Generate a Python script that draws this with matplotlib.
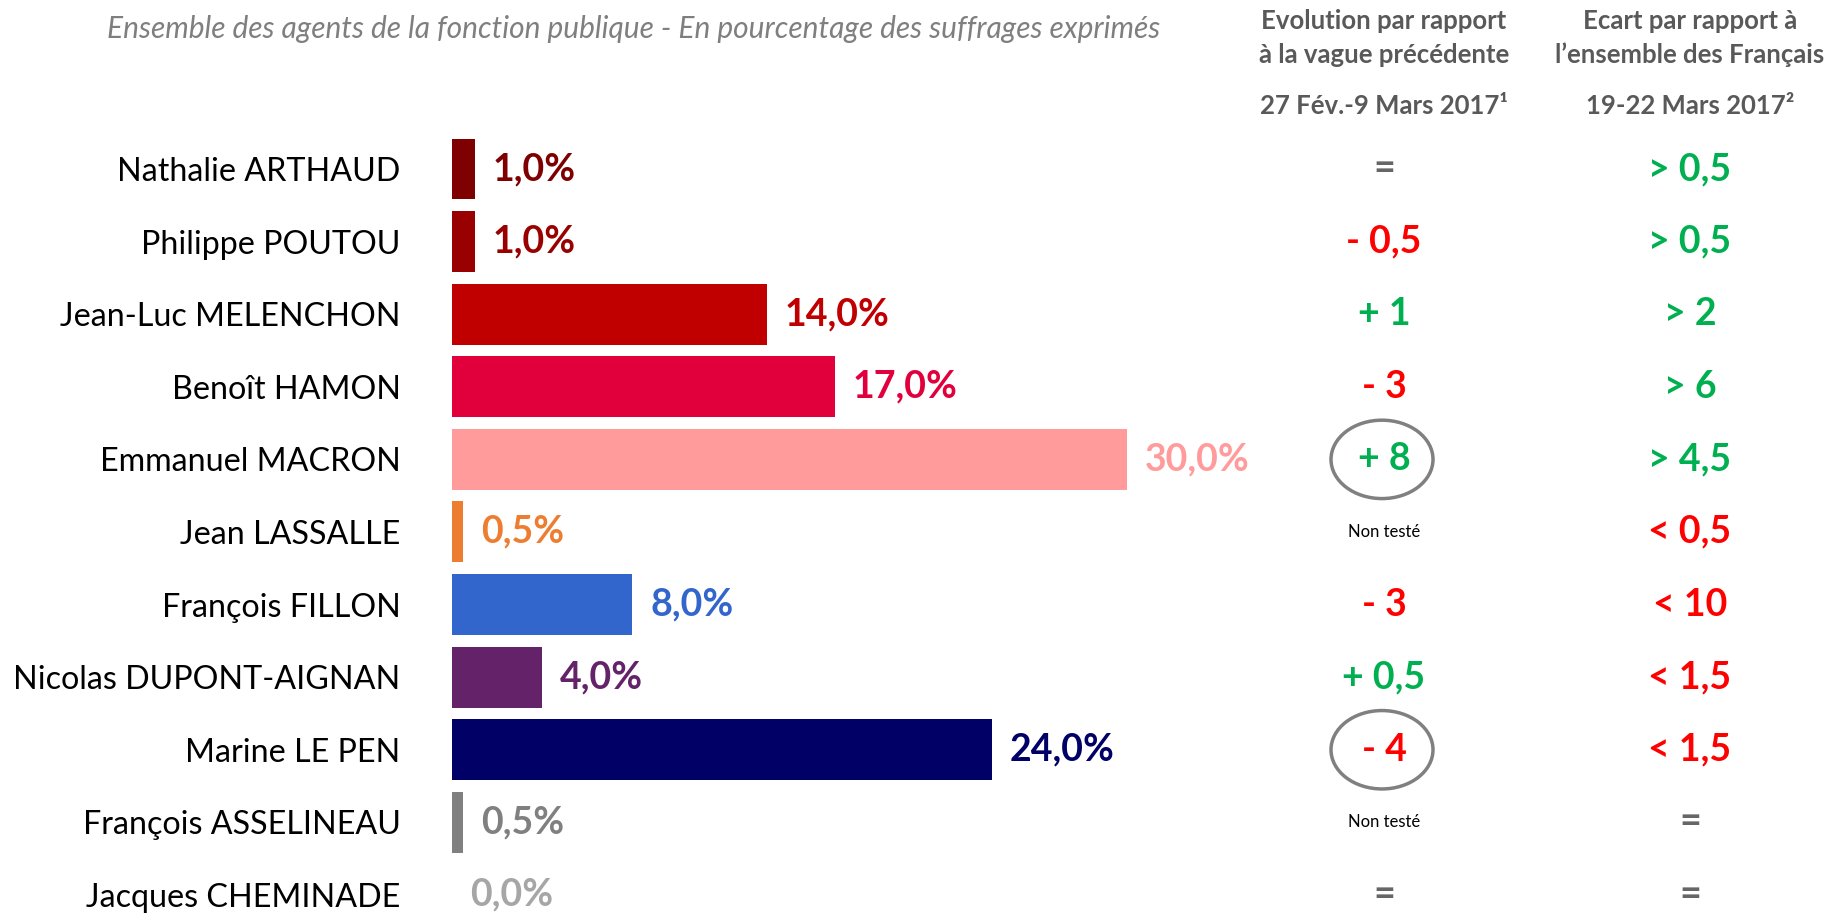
"""Intentions de vote des agents de la fonction publique - barres horizontales."""

import matplotlib

matplotlib.use("Agg")
import matplotlib.pyplot as plt
from matplotlib.patches import Ellipse

plt.rcParams["font.family"] = ["Lato", "DejaVu Sans"]

candidats = [
    "Nathalie ARTHAUD", "Philippe POUTOU", "Jean-Luc MELENCHON", "Benoît HAMON",
    "Emmanuel MACRON", "Jean LASSALLE", "François FILLON", "Nicolas DUPONT-AIGNAN",
    "Marine LE PEN", "François ASSELINEAU", "Jacques CHEMINADE",
]
scores = [1.0, 1.0, 14.0, 17.0, 30.0, 0.5, 8.0, 4.0, 24.0, 0.5, 0.0]
couleurs = [
    "#7F0000", "#990000", "#C00000", "#E2003C", "#FF9B9B", "#ED7D31",
    "#3366CC", "#642369", "#000066", "#808080", "#A6A6A6",
]
evolution = ["=", "- 0,5", "+ 1", "- 3", "+ 8", "Non testé", "- 3", "+ 0,5", "- 4", "Non testé", "="]
ecart = ["> 0,5", "> 0,5", "> 2", "> 6", "> 4,5", "< 0,5", "< 10", "< 1,5", "< 1,5", "=", "="]
entoures = [4, 8]

VERT, ROUGE, GRIS = "#00B050", "#FF0000", "#666666"


def couleur_delta(s):
    if s == "Non testé":
        return "black"
    if s.startswith("+") or s.startswith(">"):
        return VERT
    if s.startswith("-") or s.startswith("<"):
        return ROUGE
    return GRIS


W, H = 1843, 916
fig = plt.figure(figsize=(W / 100, H / 100), dpi=100)

y_top = 1 - 132.7 / H
ylim = (10.29, -0.5)

ax = fig.add_axes([452 / W, 0, 900 / W, y_top])
y = list(range(len(candidats)))
ax.barh(y, scores, height=0.84, color=couleurs)
ax.set_xlim(0, 40)
ax.set_ylim(*ylim)
ax.set_yticks(y)
ax.set_yticklabels(candidats, fontsize=23.2, color="black")
ax.tick_params(axis="y", length=0, pad=37)
ax.set_xticks([])
for s in ax.spines.values():
    s.set_visible(False)

for yi, v, c in zip(y, scores, couleurs):
    ax.annotate(f"{v:.1f}%".replace(".", ","), (v, yi), xytext=(13, 0),
                textcoords="offset points", va="center", ha="left",
                fontsize=27, fontweight="bold", color=c)

# colonnes de droite
tab = fig.add_axes([0, 0, 1, y_top])
tab.set_xlim(0, W)
tab.set_ylim(*ylim)
tab.axis("off")
tab.patch.set_visible(False)

x1, x2 = 1384, 1690
for yi, e1, e2 in zip(y, evolution, ecart):
    if e1 == "Non testé":
        tab.text(x1, yi, e1, ha="center", va="center", fontsize=12, color="black")
    else:
        tab.text(x1, yi, e1, ha="center", va="center", fontsize=27,
                 fontweight="bold", color=couleur_delta(e1))
    tab.text(x2, yi, e2, ha="center", va="center", fontsize=27,
             fontweight="bold", color=couleur_delta(e2))
for i in entoures:
    tab.add_patch(Ellipse((x1 - 2, i), 102, 1.08, fill=False, ec="#808080", lw=2.5))

# en-têtes
fig.text(634 / W, 1 - 29 / H, "Ensemble des agents de la fonction publique - En pourcentage des suffrages exprimés",
         ha="center", va="center", fontsize=21.5, style="italic", color="#7F7F7F")
entetes = [
    (x1, ["Evolution par rapport", "à la vague précédente", "27 Fév.-9 Mars 2017¹"]),
    (x2, ["Ecart par rapport à", "l’ensemble des Français", "19-22 Mars 2017²"]),
]
for x, lignes in entetes:
    for yy, t in zip([21, 55, 106], lignes):
        fig.text(x / W, 1 - yy / H, t, ha="center", va="center", fontsize=18.5,
                 fontweight="bold", color="#595959")

fig.savefig("out.png", dpi=100)
